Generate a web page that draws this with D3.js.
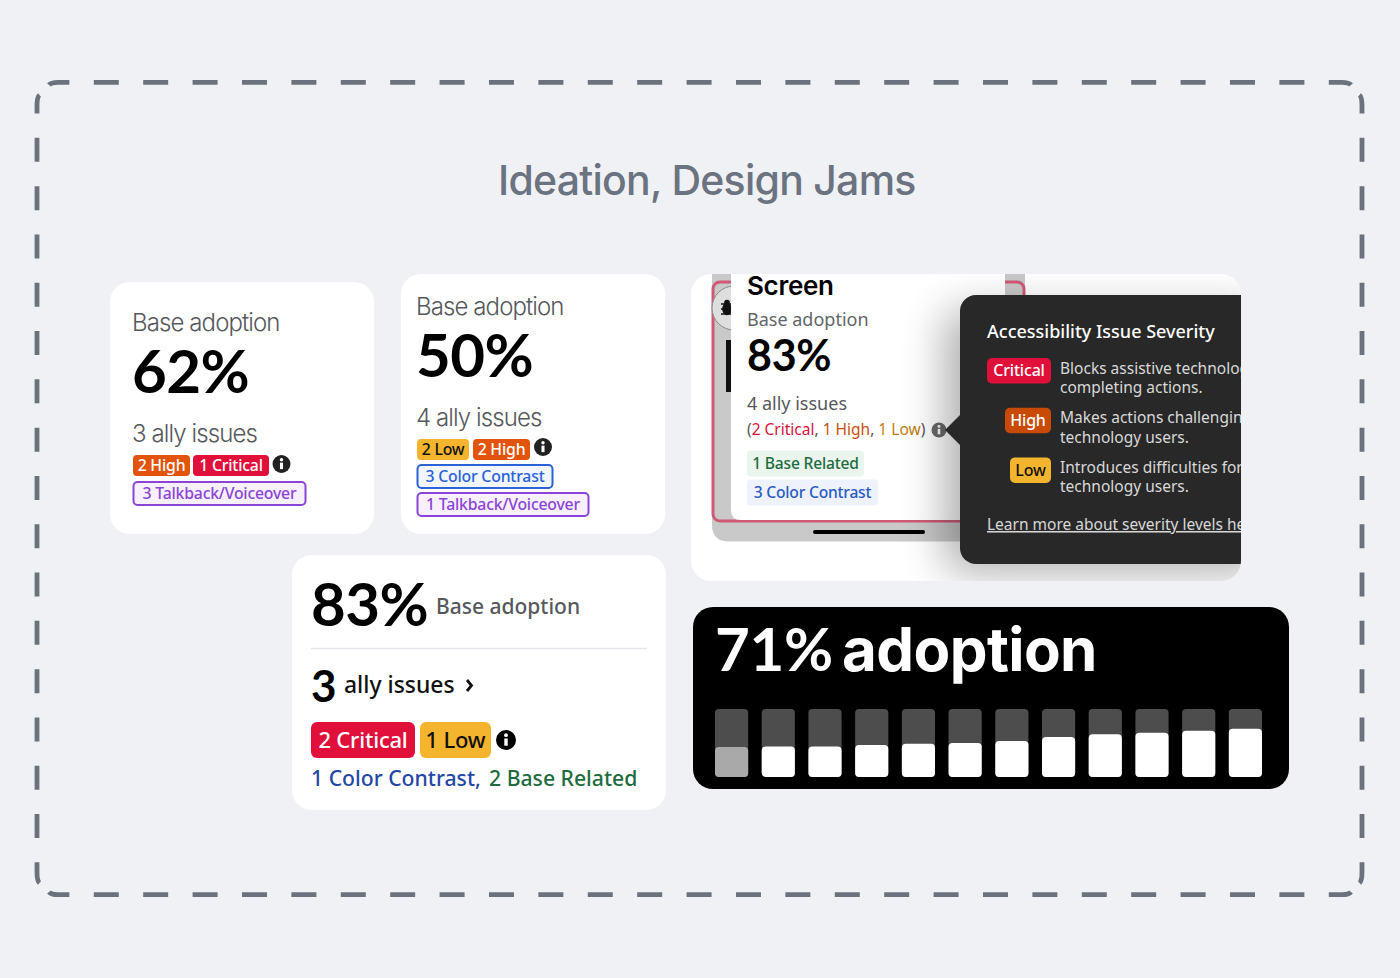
<!DOCTYPE html>
<html>
<head>
<meta charset="utf-8">
<script src="https://cdn.jsdelivr.net/npm/d3@7"></script>
<style>
  html, body { margin: 0; padding: 0; background: #eff1f5; }
  svg { display: block; }
  text { font-family: "Noto Sans", sans-serif; }
  .move { font-family: Lato, sans-serif; }
  .inter { font-family: Inter, sans-serif; }
</style>
</head>
<body>
<div id="my_dataviz"></div>
<script>
// values
var title = "Ideation, Design Jams";
var baseLabel = "Base adoption";
var percents = ["62%", "50%", "83%", "83%", "71%"];
var adoptionWord = "adoption";
var issueCounts = ["3 ally issues", "4 ally issues", "4 ally issues", "3", "ally issues"];
var severityTitle = "Accessibility Issue Severity";
var severityNames = ["Critical", "High", "Low"];
var severityLines1 = ["Blocks assistive technologies from", "Makes actions challenging for assistive", "Introduces difficulties for assistive"];
var severityLines2 = ["completing actions.", "technology users.", "technology users."];
var learnMore = "Learn more about severity levels here";
var phoneTags = ["1 Base Related", "3 Color Contrast"];
var bottomLinks = ["1 Color Contrast,", "2 Base Related"];

// bar chart in the black card, share of the track filled per period
var periods = d3.range(12);
var adoption = [44, 45, 45, 47, 49, 50, 53, 59, 63, 65, 68, 71];

var red = "#e0103a", orange = "#e2540c", yellow = "#f5b42d", blue = "#2a62d8", purple = "#8b45d6";

var svg = d3.select("#my_dataviz").append("svg")
  .attr("width", 1400)
  .attr("height", 978)
  .style("background", "#eff1f5");

var defs = svg.append("defs");
defs.append("clipPath").attr("id", "cardClip").append("rect")
  .attr("x", 691).attr("y", 274).attr("width", 550).attr("height", 307).attr("rx", 20);
defs.append("filter").attr("id", "blur")
  .attr("x", "-30%").attr("y", "-30%").attr("width", "160%").attr("height", "160%")
  .append("feGaussianBlur").attr("stdDeviation", 22);

// dashed frame, each side keeps its own dash rhythm so the corners stay symmetric
function side(d, dash, gap, offset) {
  svg.append("path")
    .attr("d", d)
    .attr("fill", "none")
    .attr("stroke", "#6c727b")
    .attr("stroke-width", 4.8)
    .attr("stroke-dasharray", dash + " " + gap)
    .attr("stroke-dashoffset", offset);
}
side("M49,85Q51,82.3 58,82.3H1342Q1349,82.3 1351,85", 25, 24.4, 4);
side("M49,892Q51,894.7 58,894.7H1342Q1349,894.7 1351,892", 25, 24.4, 4);
side("M39.5,95Q37,97 37,106V872Q37,881 39.5,883", 24, 24.3, 5);
side("M1359.5,95Q1362,97 1362,106V872Q1362,881 1359.5,883", 24, 24.3, 5);

label(svg, title, 498, 195, 41, "#6b7280", 500, "inter", -0.75);

function label(parent, str, x, y, size, color, weight, cls, spacing) {
  return parent.append("text")
    .attr("class", cls || null)
    .attr("x", x).attr("y", y)
    .attr("font-size", size)
    .attr("font-weight", weight || 400)
    .attr("letter-spacing", spacing || 0)
    .attr("fill", color)
    .text(str);
}

function card(x, y, w, h, r, fill) {
  return svg.append("rect")
    .attr("x", x).attr("y", y).attr("width", w).attr("height", h).attr("rx", r)
    .attr("fill", fill || "#fff");
}

function badge(parent, str, x, y, w, h, fill, color, size, stroke, r) {
  parent.append("rect")
    .attr("x", x).attr("y", y).attr("width", w).attr("height", h).attr("rx", r || 4)
    .attr("fill", fill)
    .attr("stroke", stroke || "none")
    .attr("stroke-width", stroke ? 2 : 0);
  parent.append("text")
    .attr("x", x + w / 2).attr("y", y + h / 2 + size * 0.35)
    .attr("text-anchor", "middle")
    .attr("font-size", size)
    .attr("font-weight", 500)
    .attr("letter-spacing", -0.2)
    .attr("fill", color)
    .text(str);
}

function info(parent, x, y, r, fill) {
  parent.append("circle").attr("cx", x).attr("cy", y).attr("r", r).attr("fill", fill);
  parent.append("circle").attr("cx", x).attr("cy", y - r * 0.48).attr("r", r * 0.19).attr("fill", "#fff");
  parent.append("rect")
    .attr("x", x - r * 0.17).attr("y", y - r * 0.15)
    .attr("width", r * 0.34).attr("height", r * 0.72)
    .attr("fill", "#fff");
}

// card 62%
card(110, 282, 264, 252, 20);
label(svg, baseLabel, 132, 331, 24, "#55585c", 300, "inter", -0.9);
label(svg, percents[0], 132, 393, 60, "#000", 700, "move", -0.5);
label(svg, issueCounts[0], 132, 442, 24, "#55585c", 300, "inter", -0.9);
badge(svg, "2 High", 133, 455, 57, 21, orange, "#fff", 15.8);
badge(svg, "1 Critical", 193, 455, 76, 21, red, "#fff", 15.8);
info(svg, 281.5, 464, 9, "#222");
badge(svg, "3 Talkback/Voiceover", 133.5, 482, 172, 23, "#f8f0ff", purple, 15.8, purple);

// card 50%
card(401, 274, 264, 260, 20);
label(svg, baseLabel, 416, 315, 24, "#55585c", 300, "inter", -0.9);
label(svg, percents[1], 416, 377, 60, "#000", 700, "move", -0.5);
label(svg, issueCounts[1], 416, 426, 24, "#55585c", 300, "inter", -0.9);
badge(svg, "2 Low", 417, 439, 52, 21, yellow, "#111", 15.8);
badge(svg, "2 High", 473, 439, 57, 21, orange, "#fff", 15.8);
info(svg, 543, 447, 9, "#222");
badge(svg, "3 Color Contrast", 417.5, 465, 135, 23, "#f2f6ff", blue, 15.8, blue);
badge(svg, "1 Talkback/Voiceover", 417.5, 493, 171, 23, "#f8f0ff", purple, 15.8, purple);

// card 83% with the divider
card(292, 555, 374, 255, 20);
label(svg, percents[2], 311, 626, 60, "#000", 700, "move", -0.5);
label(svg, baseLabel, 436, 614, 21, "#55585c", 500);
svg.append("line")
  .attr("x1", 311).attr("x2", 647).attr("y1", 648.5).attr("y2", 648.5)
  .attr("stroke", "#e3e5e9").attr("stroke-width", 1.5);
label(svg, issueCounts[3], 311, 702, 44, "#000", 700, "move");
label(svg, issueCounts[4], 344, 693, 22.9, "#111", 500);
svg.append("path")
  .attr("d", d3.line()([[467, 680], [471.5, 685.5], [467, 691]]))
  .attr("fill", "none").attr("stroke", "#111").attr("stroke-width", 2.8);
badge(svg, "2 Critical", 311, 722, 104, 36, red, "#fff", 22, null, 6);
badge(svg, "1 Low", 420, 722, 71, 36, yellow, "#111", 22, null, 6);
info(svg, 506, 740, 10, "#000");
label(svg, bottomLinks[0], 311, 786, 21.2, "#2347a5", 500);
label(svg, bottomLinks[1], 489, 786, 21.2, "#1f6b41", 500);

// screen preview card with the severity tooltip, clipped at the right edge
card(691, 274, 550, 307, 20);
var preview = svg.append("g").attr("clip-path", "url(#cardClip)");

preview.append("path")
  .attr("d", "M712,270H1025V525Q1025,541.5 1008,541.5H729Q712,541.5 712,525Z")
  .attr("fill", "#c9c9c9");
preview.append("rect")
  .attr("x", 713).attr("y", 282).attr("width", 311).attr("height", 239).attr("rx", 7)
  .attr("fill", "none").attr("stroke", "#cf5a78").attr("stroke-width", 3);
preview.append("circle").attr("cx", 734).attr("cy", 308).attr("r", 22)
  .attr("fill", "#dedede").attr("stroke", "#8a8a8a");

// bug icon on the badge
var bug = preview.append("g").attr("stroke", "#111").attr("stroke-width", 1.3);
bug.append("ellipse").attr("cx", 727).attr("cy", 309).attr("rx", 4.2).attr("ry", 5.5).attr("fill", "#111");
bug.append("circle").attr("cx", 727).attr("cy", 302.5).attr("r", 2.2).attr("fill", "#111");
[304, 309, 314].forEach(function(legY) {
  bug.append("line").attr("x1", 721).attr("x2", 733).attr("y1", legY).attr("y2", legY);
});

preview.append("rect").attr("x", 726).attr("y", 340).attr("width", 6).attr("height", 52).attr("fill", "#111");
preview.append("rect").attr("x", 813).attr("y", 530).attr("width", 112).attr("height", 4).attr("rx", 2).attr("fill", "#000");
preview.append("path")
  .attr("d", "M731,270H1005V520H741Q731,520 731,510Z")
  .attr("fill", "#fff");

label(preview, "Screen", 747, 295, 26, "#000", 600, "inter", -0.3);
label(preview, baseLabel, 747, 326, 18, "#62656a", 400);
label(preview, percents[3], 747, 371, 43, "#000", 700, "move", -0.3);
label(preview, issueCounts[2], 747, 410, 18, "#55585c", 400);

var detail = preview.append("text").attr("x", 747).attr("y", 435).attr("font-size", 15.5).attr("font-weight", 400);
detail.append("tspan").attr("fill", "#555").text("(");
detail.append("tspan").attr("fill", "#d5123c").text("2 Critical");
detail.append("tspan").attr("fill", "#555").text(", ");
detail.append("tspan").attr("fill", "#c8500f").text("1 High");
detail.append("tspan").attr("fill", "#555").text(", ");
detail.append("tspan").attr("fill", "#bf7d10").text("1 Low");
detail.append("tspan").attr("fill", "#555").text(")");
info(preview, 939, 430, 7.5, "#6a6a6a");

badge(preview, phoneTags[0], 747, 450.5, 117, 26, "#e9f5ed", "#1f6b41", 15.6);
badge(preview, phoneTags[1], 747, 479.5, 131, 26, "#edf2fd", "#2a5cc4", 15.6);

// soft shadow of the tooltip over the preview
preview.append("rect")
  .attr("x", 945).attr("y", 310).attr("width", 320).attr("height", 262).attr("rx", 16)
  .attr("fill", "#000").attr("opacity", 0.32)
  .attr("filter", "url(#blur)");

var tip = preview.append("g");
tip.append("path")
  .attr("d", "M945,430L960,415V445Z")
  .attr("fill", "#282828");
tip.append("rect")
  .attr("x", 960).attr("y", 295).attr("width", 320).attr("height", 269).attr("rx", 16)
  .attr("fill", "#282828");

label(tip, severityTitle, 987, 338, 18, "#fff", 500);

var severityFill = [red, "#c84a05", yellow];
var severityText = ["#fff", "#fff", "#111"];
var severityBadgeX = [987, 1005, 1010];
severityNames.forEach(function(name, i) {
  var rowY = 358 + i * 49.7;
  badge(tip, name, severityBadgeX[i], rowY, 1051 - severityBadgeX[i], 25.5, severityFill[i], severityText[i], 16, null, 5);
  label(tip, severityLines1[i], 1060, rowY + 15.5, 15.5, "#d8d8d8", 400);
  label(tip, severityLines2[i], 1060, rowY + 35, 15.5, "#d8d8d8", 400);
});
label(tip, learnMore, 987, 530, 15.5, "#d8d8d8", 400).attr("text-decoration", "underline");

// black adoption card
card(693, 607, 596, 182, 20, "#000");
label(svg, percents[4], 715, 671, 60, "#fff", 700, "move", -0.3);
label(svg, adoptionWord, 842, 671, 60, "#fff", 700, "inter", -0.6);

var x = d3.scaleBand().domain(periods).range([715, 1262]).paddingInner(0.29);
var y = d3.scaleLinear().domain([0, 100]).range([777, 709]);

svg.append("g").selectAll("rect").data(periods).join("rect")
  .attr("x", function(d) { return x(d); })
  .attr("y", y(100))
  .attr("width", x.bandwidth())
  .attr("height", y(0) - y(100))
  .attr("rx", 4)
  .attr("fill", "#4d4d4d");

svg.append("g").selectAll("rect").data(adoption).join("rect")
  .attr("x", function(d, i) { return x(i); })
  .attr("y", function(d) { return y(d); })
  .attr("width", x.bandwidth())
  .attr("height", function(d) { return y(0) - y(d); })
  .attr("rx", 4)
  .attr("fill", function(d, i) { return i === 0 ? "#a9a9a9" : "#fff"; });
</script>
</body>
</html>
